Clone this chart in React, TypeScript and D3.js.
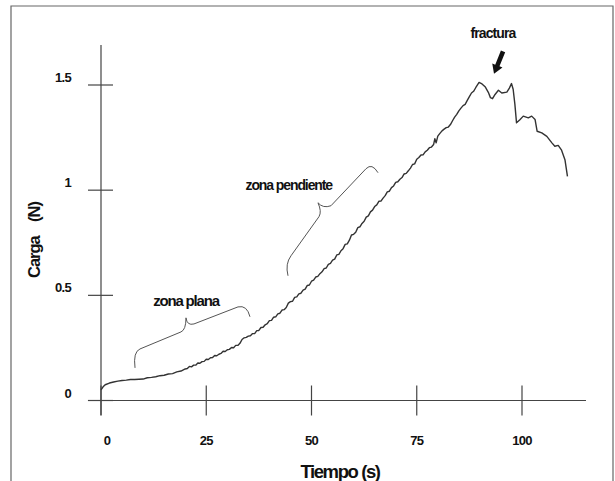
import React from "react";
import * as d3 from "d3";

const timeS = [0, 0.5, 1, 2, 3, 4, 5, 6, 7, 8, 9, 10, 11, 12, 13, 14, 15, 16, 17, 18, 19,
  20, 20.5, 21, 21.5, 22, 22.5, 23, 23.5, 24, 24.5, 25, 25.5, 26, 26.5, 27, 27.5, 28, 28.5, 29, 29.5,
  30, 30.5, 31, 31.5, 32, 32.5, 33, 33.5, 34, 34.5, 35, 35.5, 36, 36.5, 37, 37.5, 38, 38.5, 39, 39.5,
  40, 40.5, 41, 41.5, 42, 42.5, 43, 43.5, 44, 44.5, 45, 45.5, 46, 46.5, 47, 47.5, 48, 48.5, 49, 49.5,
  50, 50.5, 51, 51.5, 52, 52.5, 53, 53.5, 54, 54.5, 55, 55.5, 56, 56.5, 57, 57.5, 58, 58.5, 59, 59.5,
  60, 60.5, 61, 61.5, 62, 62.5, 63, 63.5, 64, 64.5, 65, 65.5, 66, 66.5, 67, 67.5, 68, 68.5, 69, 69.5,
  70, 70.5, 71, 71.5, 72, 72.5, 73, 73.5, 74, 74.5, 75, 75.5, 76, 76.5, 77, 77.5, 78, 78.5, 79, 79.3, 79.6,
  80, 80.5, 81, 81.5, 82, 82.5, 83, 83.5, 84, 84.5, 85, 85.5, 86, 86.5, 87, 87.5, 88, 88.5, 89, 89.8,
  90.5, 91.3, 92, 92.5, 93, 93.6, 94.4, 95.2, 96.4, 97, 97.5, 97.9, 98.3, 98.7, 99.5, 100.3, 101.5, 102.3,
  103.1, 103.6, 104.7, 105.9, 107.1, 107.8, 108.6, 109.4, 110.2, 110.8];
const cargaN = [0.05, 0.065, 0.075, 0.083, 0.088, 0.092, 0.095, 0.097, 0.1, 0.1, 0.101, 0.102, 0.108, 0.11, 0.113, 0.118, 0.12, 0.126, 0.128, 0.136, 0.14,
  0.15, 0.152, 0.162, 0.16, 0.168, 0.168, 0.178, 0.177, 0.185, 0.186, 0.196, 0.195, 0.203, 0.204, 0.214, 0.213, 0.22, 0.224, 0.234, 0.233,
  0.241, 0.243, 0.252, 0.251, 0.262, 0.262, 0.272, 0.29, 0.298, 0.3, 0.306, 0.308, 0.318, 0.318, 0.332, 0.333, 0.347, 0.348, 0.36, 0.365,
  0.38, 0.381, 0.396, 0.398, 0.412, 0.415, 0.43, 0.432, 0.442, 0.463, 0.47, 0.472, 0.49, 0.493, 0.507, 0.51, 0.525, 0.53, 0.547, 0.549,
  0.567, 0.572, 0.587, 0.59, 0.603, 0.612, 0.627, 0.63, 0.647, 0.652, 0.667, 0.672, 0.692, 0.695, 0.712, 0.722, 0.742, 0.745, 0.762, 0.787,
  0.79, 0.8, 0.822, 0.826, 0.842, 0.852, 0.872, 0.878, 0.897, 0.905, 0.922, 0.93, 0.947, 0.948, 0.962, 0.974, 0.992, 0.995, 1.012, 1.02,
  1.037, 1.04, 1.052, 1.06, 1.077, 1.08, 1.092, 1.105, 1.122, 1.125, 1.147, 1.155, 1.167, 1.168, 1.182, 1.19, 1.202, 1.205, 1.217, 1.245, 1.225,
  1.257, 1.27, 1.282, 1.29, 1.297, 1.3, 1.312, 1.33, 1.347, 1.36, 1.377, 1.39, 1.402, 1.408, 1.427, 1.445, 1.462, 1.47, 1.487, 1.512,
  1.505, 1.49, 1.465, 1.44, 1.435, 1.455, 1.475, 1.462, 1.466, 1.485, 1.507, 1.48, 1.41, 1.32, 1.335, 1.352, 1.344, 1.352,
  1.336, 1.28, 1.272, 1.256, 1.225, 1.209, 1.213, 1.19, 1.145, 1.066];

const xTicks = [0, 25, 50, 75, 100];
const xTickLabels = ["0", "25", "50", "75", "100"];
const yTicks = [0, 0.5, 1, 1.5];
const yTickLabels = ["0", "0.5", "1", "1.5"];

// brace annotations in data units: [start, ctrl, end, lineTo, ctrl, tip, ctrl, end, lineTo, ctrl, end]
const bracePlana: [number, number][] = [[8.08, 0.155], [7.6, 0.231], [9.26, 0.245], [19.0, 0.326], [20.19, 0.336], [20.19, 0.393], [20.43, 0.355], [22.09, 0.364], [32.54, 0.445], [34.68, 0.455], [35.39, 0.398]];
const bracePendiente: [number, number][] = [[44.42, 0.593], [43.71, 0.65], [45.13, 0.688], [51.78, 0.874], [52.49, 0.898], [51.54, 0.94], [52.73, 0.912], [54.63, 0.926], [62.95, 1.102], [64.37, 1.131], [65.8, 1.083]];
const labels = [
  { text: "zona plana", t: 20.2, v: 0.449, size: 15, ls: -1.2 },
  { text: "zona pendiente", t: 44.6, v: 1.0, size: 14, ls: -1.1 },
  { text: "fractura", t: 93.1, v: 1.725, size: 14, ls: -0.9 },
];
const arrowTail: [number, number] = [95.5, 1.66];
const arrowTip: [number, number] = [93.35, 1.553];

export default function App() {
  const x = d3.scaleLinear().domain([0, 100]).range([101, 522]);
  const y = d3.scaleLinear().domain([0, 1.5]).range([400.5, 85]);
  const pts: [number, number][] = timeS.map((t, i) => [t, cargaN[i]]);
  const line = d3.line<[number, number]>().x(d => x(d[0])).y(d => y(d[1]));

  const bracePath = (b: [number, number][]) => {
    const p = b.map(([t, v]) => [x(t), y(v)]);
    const path = d3.path();
    path.moveTo(p[0][0], p[0][1]);
    path.quadraticCurveTo(p[1][0], p[1][1], p[2][0], p[2][1]);
    path.lineTo(p[3][0], p[3][1]);
    path.quadraticCurveTo(p[4][0], p[4][1], p[5][0], p[5][1]);
    path.quadraticCurveTo(p[6][0], p[6][1], p[7][0], p[7][1]);
    path.lineTo(p[8][0], p[8][1]);
    path.quadraticCurveTo(p[9][0], p[9][1], p[10][0], p[10][1]);
    return path.toString();
  };

  const tx = x(arrowTail[0]), ty = y(arrowTail[1]);
  const hx = x(arrowTip[0]), hy = y(arrowTip[1]);
  const dx = hx - tx, dy = hy - ty;
  const len = Math.hypot(dx, dy);
  const ux = dx / len, uy = dy / len;
  const nx = -uy, ny = ux;
  const headLen = 9, shaftW = 2.3, headW = 5.5;
  const bx = hx - ux * headLen, by = hy - uy * headLen;
  const arrowPts = [
    [tx + nx * shaftW, ty + ny * shaftW],
    [bx + nx * shaftW, by + ny * shaftW],
    [bx + nx * headW, by + ny * headW],
    [hx, hy],
    [bx - nx * headW, by - ny * headW],
    [bx - nx * shaftW, by - ny * shaftW],
    [tx - nx * shaftW, ty - ny * shaftW],
  ].map(p => p.join(",")).join(" ");

  const font = "'Liberation Sans', Arial, sans-serif";

  return (
    <svg width={615} height={481} style={{ position: "absolute", left: 0, top: 0, background: "#fff" }} fontFamily={font}>
      <rect x={0} y={0} width={615} height={481} fill="#fff" />
      <path d="M11,490 L11,6 L613,6 L613,490" fill="none" stroke="#666" strokeWidth={1.2} />
      <line x1={x(-3.1)} x2={x(115.2)} y1={y(0)} y2={y(0)} stroke="#444" strokeWidth={1.2} />
      <line x1={x(0)} x2={x(0)} y1={y(1.69)} y2={y(-0.07)} stroke="#444" strokeWidth={1.2} />
      {xTicks.map((t, i) => (
        <g key={"xt" + i}>
          <line x1={x(t)} x2={x(t)} y1={y(0) - 15} y2={y(0) + 15} stroke="#444" strokeWidth={1.2} />
          <text x={x(t) + (i === 0 ? 6 : 0)} y={445} textAnchor="middle" fontSize={13} fontWeight="bold" letterSpacing={-0.7} fill="#111">{xTickLabels[i]}</text>
        </g>
      ))}
      {yTicks.map((v, i) => (
        <g key={"yt" + i}>
          <line x1={x(0) - 13} x2={x(0) + 12} y1={y(v)} y2={y(v)} stroke="#444" strokeWidth={1.2} />
          <text x={71} y={y(v) - 3} textAnchor="end" fontSize={13} fontWeight="bold" letterSpacing={-0.7} fill="#111">{yTickLabels[i]}</text>
        </g>
      ))}
      <text x={340} y={478} textAnchor="middle" fontSize={18.5} fontWeight="bold" letterSpacing={-1.4} fill="#111">Tiempo (s)</text>
      <text transform="translate(40,240) rotate(-90)" textAnchor="middle" fontSize={16.5} fontWeight="bold" letterSpacing={-1} fill="#111" xmlSpace="preserve">{"Carga    (N)"}</text>
      <path d={line(pts) || ""} fill="none" stroke="#333" strokeWidth={1.4} strokeLinejoin="round" />
      <path d={bracePath(bracePlana)} fill="none" stroke="#555" strokeWidth={1} />
      <path d={bracePath(bracePendiente)} fill="none" stroke="#555" strokeWidth={1} />
      {labels.map((l, i) => (
        <text key={"lb" + i} x={x(l.t)} y={y(l.v)} textAnchor="middle" fontSize={l.size} fontWeight="bold" letterSpacing={l.ls} fill="#111">{l.text}</text>
      ))}
      <polygon points={arrowPts} fill="#111" />
    </svg>
  );
}
